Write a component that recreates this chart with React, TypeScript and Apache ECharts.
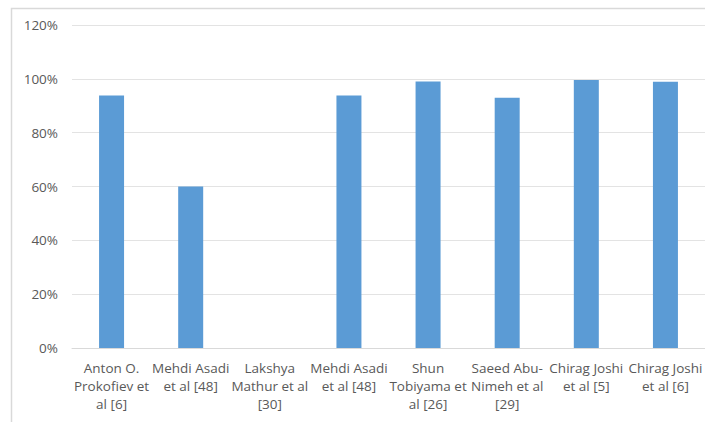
import React, { useEffect, useRef } from "react";
import * as echarts from "echarts";

const categories = [
  "Anton O.\nProkofiev et\nal [6]",
  "Mehdi Asadi\net al [48]",
  "Lakshya\nMathur et al\n[30]",
  "Mehdi Asadi\net al [48]",
  "Shun\nTobiyama et\nal [26]",
  "Saeed Abu-\nNimeh et al\n[29]",
  "Chirag Joshi\net al [5]",
  "Chirag Joshi\net al [6]",
];
const accuracy: (number | null)[] = [93.8, 60, null, 93.8, 99, 93, 99.6, 98.9];
const yTicks = { min: 0, max: 120, interval: 20 };

export default function App() {
  const ref = useRef<HTMLDivElement>(null);
  useEffect(() => {
    if (!ref.current) return;
    const chart = echarts.init(ref.current, null, { renderer: "svg" });
    chart.setOption({
      animation: false,
      backgroundColor: "#ffffff",
      textStyle: { fontFamily: "Open Sans" },
      graphic: [
        {
          type: "rect",
          shape: { x: 11.5, y: 8.5, width: 800, height: 500 },
          style: { fill: "none", stroke: "#d9d9d9", lineWidth: 1.5 },
          silent: true,
          z: -1,
        },
      ],
      grid: { left: 72, right: -7, top: 25, bottom: 74, containLabel: false },
      xAxis: {
        type: "category",
        data: categories,
        axisLine: { show: true, lineStyle: { color: "#d9d9d9" } },
        axisTick: { show: false },
        axisLabel: {
          interval: 0,
          color: "#595959",
          fontSize: 13.5,
          lineHeight: 18,
          margin: 11,
          fontFamily: "Open Sans",
        },
      },
      yAxis: {
        type: "value",
        min: yTicks.min,
        max: yTicks.max,
        interval: yTicks.interval,
        axisLine: { show: false },
        axisTick: { show: false },
        splitLine: { lineStyle: { color: "#e3e3e3", width: 1 } },
        axisLabel: {
          color: "#595959",
          fontSize: 13.5,
          margin: 14,
          formatter: (v: number) => v + "%",
          fontFamily: "Open Sans",
        },
      },
      series: [
        {
          type: "bar",
          data: accuracy,
          barWidth: 25,
          itemStyle: { color: "#5b9bd5" },
        },
      ],
    });
    return () => chart.dispose();
  }, []);
  return (
    <div
      ref={ref}
      style={{ position: "absolute", left: 0, top: 0, width: 705, height: 422 }}
    />
  );
}
